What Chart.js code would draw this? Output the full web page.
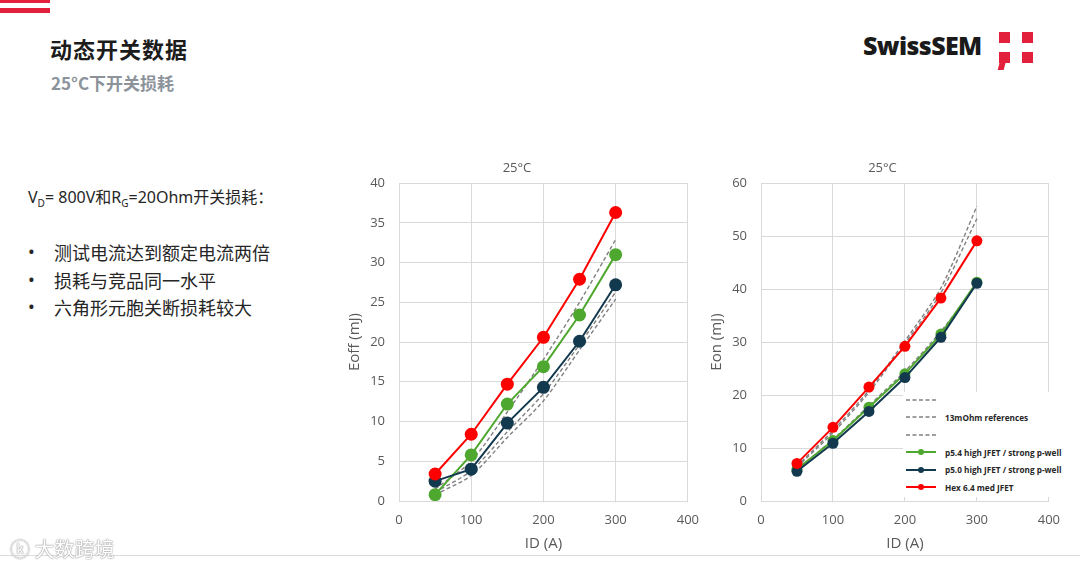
<!DOCTYPE html>
<html>
<head>
<meta charset="utf-8">
<script src="https://cdn.jsdelivr.net/npm/chart.js@4.4.1/dist/chart.umd.min.js"></script>
<style>
  body { margin: 0; width: 1080px; height: 569px; background: #fff; position: relative; overflow: hidden;
         font-family: "Noto Sans", "Noto Sans CJK SC", sans-serif; }
  .bar { position: absolute; left: 0; width: 50px; background: #e2203c; }
  #title { position: absolute; left: 50px; top: 32px; font: bold 22px "Noto Sans CJK SC"; color: #1c1c1c; letter-spacing: 1px; }
  #subtitle { position: absolute; left: 51px; top: 70px; font: bold 17px "Noto Sans CJK SC"; color: #8c939b; }
  #logo { position: absolute; left: 863px; top: 28px; font: 800 25px "Open Sans"; color: #1a1a1a; letter-spacing: -0.6px; }
  .sq { position: absolute; background: #e2203c; width: 11px; height: 11px; }
  #notes { position: absolute; left: 28px; top: 184px; color: #262626; font-family: "Noto Sans", "Noto Sans CJK SC"; }
  #notes .head { font-size: 16px; }
  #notes sub { font-size: 10px; }
  #notes ul { margin: 29px 0 0 0; padding: 0; list-style: none; font-size: 18px; font-family: "Noto Sans CJK SC"; }
  #notes li { height: 27.5px; position: relative; padding-left: 26px; }
  #notes li::before { content: "•"; position: absolute; left: 0; font-family: "Noto Sans"; }
  .chartbox { position: absolute; top: 150px; height: 406px; }
  #legend { position: absolute; left: 903px; top: 392px; width: 176px; height: 105px; background: #fff; }
  .lrow { position: absolute; left: 3px; height: 12px; display: flex; align-items: center;
          font: bold 8.2px "Open Sans"; color: #262626; white-space: nowrap; }
  .lrow svg { margin-right: 9px; }
  #rule { position: absolute; left: 0; top: 555px; width: 1080px; height: 1px; background: #dcdcdc; }
  #wm { position: absolute; left: 10px; top: 534px; font: 20px "Noto Sans CJK SC"; color: #fff;
        text-shadow: 0 0 1px #999, 0 0 1px #999, 0 0 2px #bbb; }
</style>
</head>
<body>
<div class="bar" style="top:0;height:3px"></div>
<div class="bar" style="top:8px;height:5px"></div>
<div id="title">动态开关数据</div>
<div id="subtitle">25°C下开关损耗</div>
<div id="logo">SwissSEM</div>
<div class="sq" style="left:999px;top:32px"></div>
<div class="sq" style="left:1022px;top:32px"></div>
<div class="sq" style="left:999px;top:52px"></div>
<div class="sq" style="left:999px;top:60px;width:6px;height:10px;transform:skewX(-15deg)"></div>
<div class="sq" style="left:1022px;top:52px"></div>

<div id="notes">
  <div class="head">V<sub>D</sub>= 800V和R<sub>G</sub>=20Ohm开关损耗：</div>
  <ul>
    <li>测试电流达到额定电流两倍</li>
    <li>损耗与竞品同一水平</li>
    <li>六角形元胞关断损耗较大</li>
  </ul>
</div>

<div class="chartbox" style="left:335px;width:364px"><canvas id="eoffChart"></canvas></div>
<div class="chartbox" style="left:705px;width:355px"><canvas id="eonChart"></canvas></div>
<div id="legend"></div>
<div id="rule"></div>
<div id="wm">ⓚ 大数跨境</div>

<script>
// 측정 전류 (A)
const currents = [50, 100, 150, 200, 250, 300];

// 시리즈 이름
const seriesLabels = ['', '13mOhm references', '', 'p5.4 high JFET / strong p-well', 'p5.0 high JFET / strong p-well', 'Hex 6.4 med JFET'];

// Eoff (mJ)
const eoffRef1 = [1.5, 5.0, 11.2, 17.8, 25.0, 32.9];
const eoffRef2 = [1.1, 3.8, 8.7, 13.5, 19.7, 26.3];
const eoffRef3 = [0.8, 3.2, 8.0, 12.6, 19.0, 25.4];
const eoffP54 = [0.8, 5.8, 12.2, 16.9, 23.4, 31.0];
const eoffP50 = [2.5, 4.0, 9.8, 14.3, 20.1, 27.2];
const eoffHex = [3.4, 8.4, 14.7, 20.6, 27.9, 36.3];

// Eon (mJ)
const eonRef1 = [6.6, 13.3, 20.9, 30.2, 40.2, 55.6];
const eonRef2 = [6.4, 12.9, 20.5, 29.7, 39.3, 53.3];
const eonRef3 = [6.0, 11.6, 18.0, 24.5, 32.0, 41.0];
const eonP54 = [6.0, 11.4, 17.7, 24.0, 31.5, 41.3];
const eonP50 = [5.6, 10.9, 16.9, 23.3, 30.9, 41.1];
const eonHex = [7.1, 13.9, 21.5, 29.2, 38.3, 49.1];

const xTicks = [0, 100, 200, 300, 400];

const GRAY = '#808080';
const GREEN = '#4ea72e';
const NAVY = '#12394d';
const RED = '#ff0000';
const TXT = '#595959';
const GRID = '#d9d9d9';

function toPoints(vals) {
    return vals.map((v, i) => ({ x: currents[i], y: v }));
}

function makeDatasets(refs, p54, p50, hex, r) {
    const sets = refs.map((vals, i) => ({
        label: seriesLabels[i],
        data: toPoints(vals),
        borderColor: GRAY,
        borderWidth: 1.4,
        borderDash: [4, 2.5],
        pointRadius: 0,
        tension: 0.25,
        order: 3
    }));
    const solid = [[p54, GREEN, 2], [p50, NAVY, 1], [hex, RED, 0]];
    solid.forEach(([vals, col, ord], i) => {
        sets.push({
            label: seriesLabels[3 + i],
            data: toPoints(vals),
            borderColor: col,
            backgroundColor: col,
            borderWidth: 2,
            pointRadius: r,
            pointHoverRadius: r,
            pointBorderWidth: 0,
            tension: 0,
            order: ord
        });
    });
    return sets;
}

function makeChart(id, datasets, yTitle, yMax, yStep, yTitlePad, yWidth) {
    const ctx = document.getElementById(id).getContext('2d');
    return new Chart(ctx, {
        type: 'line',
        data: { datasets: datasets },
        options: {
            responsive: true,
            maintainAspectRatio: false,
            animation: false,
            layout: { padding: 0 },
            plugins: {
                legend: { display: false },
                tooltip: { enabled: false },
                title: {
                    display: true,
                    text: '25°C',
                    color: TXT,
                    font: { family: 'Open Sans', size: 13, weight: 'normal' },
                    padding: { top: 10, bottom: 7.5 }
                }
            },
            scales: {
                x: {
                    type: 'linear',
                    min: xTicks[0],
                    max: xTicks[xTicks.length - 1],
                    afterBuildTicks: (s) => { s.ticks = xTicks.map(v => ({ value: v })); },
                    afterFit: (s) => { s.height = 55; },
                    grid: { color: GRID, drawTicks: false },
                    border: { color: GRID },
                    // 큰 lineHeight로 라벨을 아래로 내림 (padding은 가로 여백도 늘리므로 0)
                    ticks: { color: TXT, padding: 0, font: { family: 'Open Sans', size: 13, lineHeight: 3.03 } },
                    title: { display: true, text: 'ID (A)', color: TXT, padding: { top: 0, bottom: 3 },
                             font: { family: 'Open Sans', size: 15 } }
                },
                y: {
                    min: 0,
                    max: yMax,
                    afterFit: (s) => { s.width = yWidth; },
                    grid: { color: GRID, drawTicks: false },
                    border: { color: GRID },
                    ticks: { stepSize: yStep, color: TXT, padding: 14, font: { family: 'Open Sans', size: 13 } },
                    title: { display: true, text: yTitle, color: TXT, padding: { top: yTitlePad, bottom: 0 },
                             font: { family: 'Open Sans', size: 15 } }
                }
            }
        }
    });
}

const eoffChart = makeChart('eoffChart',
    makeDatasets([eoffRef1, eoffRef2, eoffRef3], eoffP54, eoffP50, eoffHex, 6.5),
    'Eoff (mJ)', 40, 5, 11, 64);
const eonChart = makeChart('eonChart',
    makeDatasets([eonRef1, eonRef2, eonRef3], eonP54, eonP50, eonHex, 5.5),
    'Eon (mJ)', 60, 10, 3, 56);

// 범례 (차트 안쪽, 오른쪽 아래)
const legendEl = document.getElementById('legend');
eonChart.data.datasets.forEach((ds, i) => {
    const row = document.createElement('div');
    row.className = 'lrow';
    row.style.top = (2 + i * 17.4) + 'px';
    const dash = ds.borderDash ? 'stroke-dasharray="4 2.5"' : '';
    const dot = ds.pointRadius ? `<circle cx="15" cy="4" r="3" fill="${ds.borderColor}"/>` : '';
    row.innerHTML = `<svg width="30" height="8"><line x1="0" y1="4" x2="30" y2="4" stroke="${ds.borderColor}" stroke-width="${ds.borderDash ? 1.4 : 2}" ${dash}/>${dot}</svg><span>${ds.label}</span>`;
    legendEl.appendChild(row);
});
</script>
</body>
</html>
